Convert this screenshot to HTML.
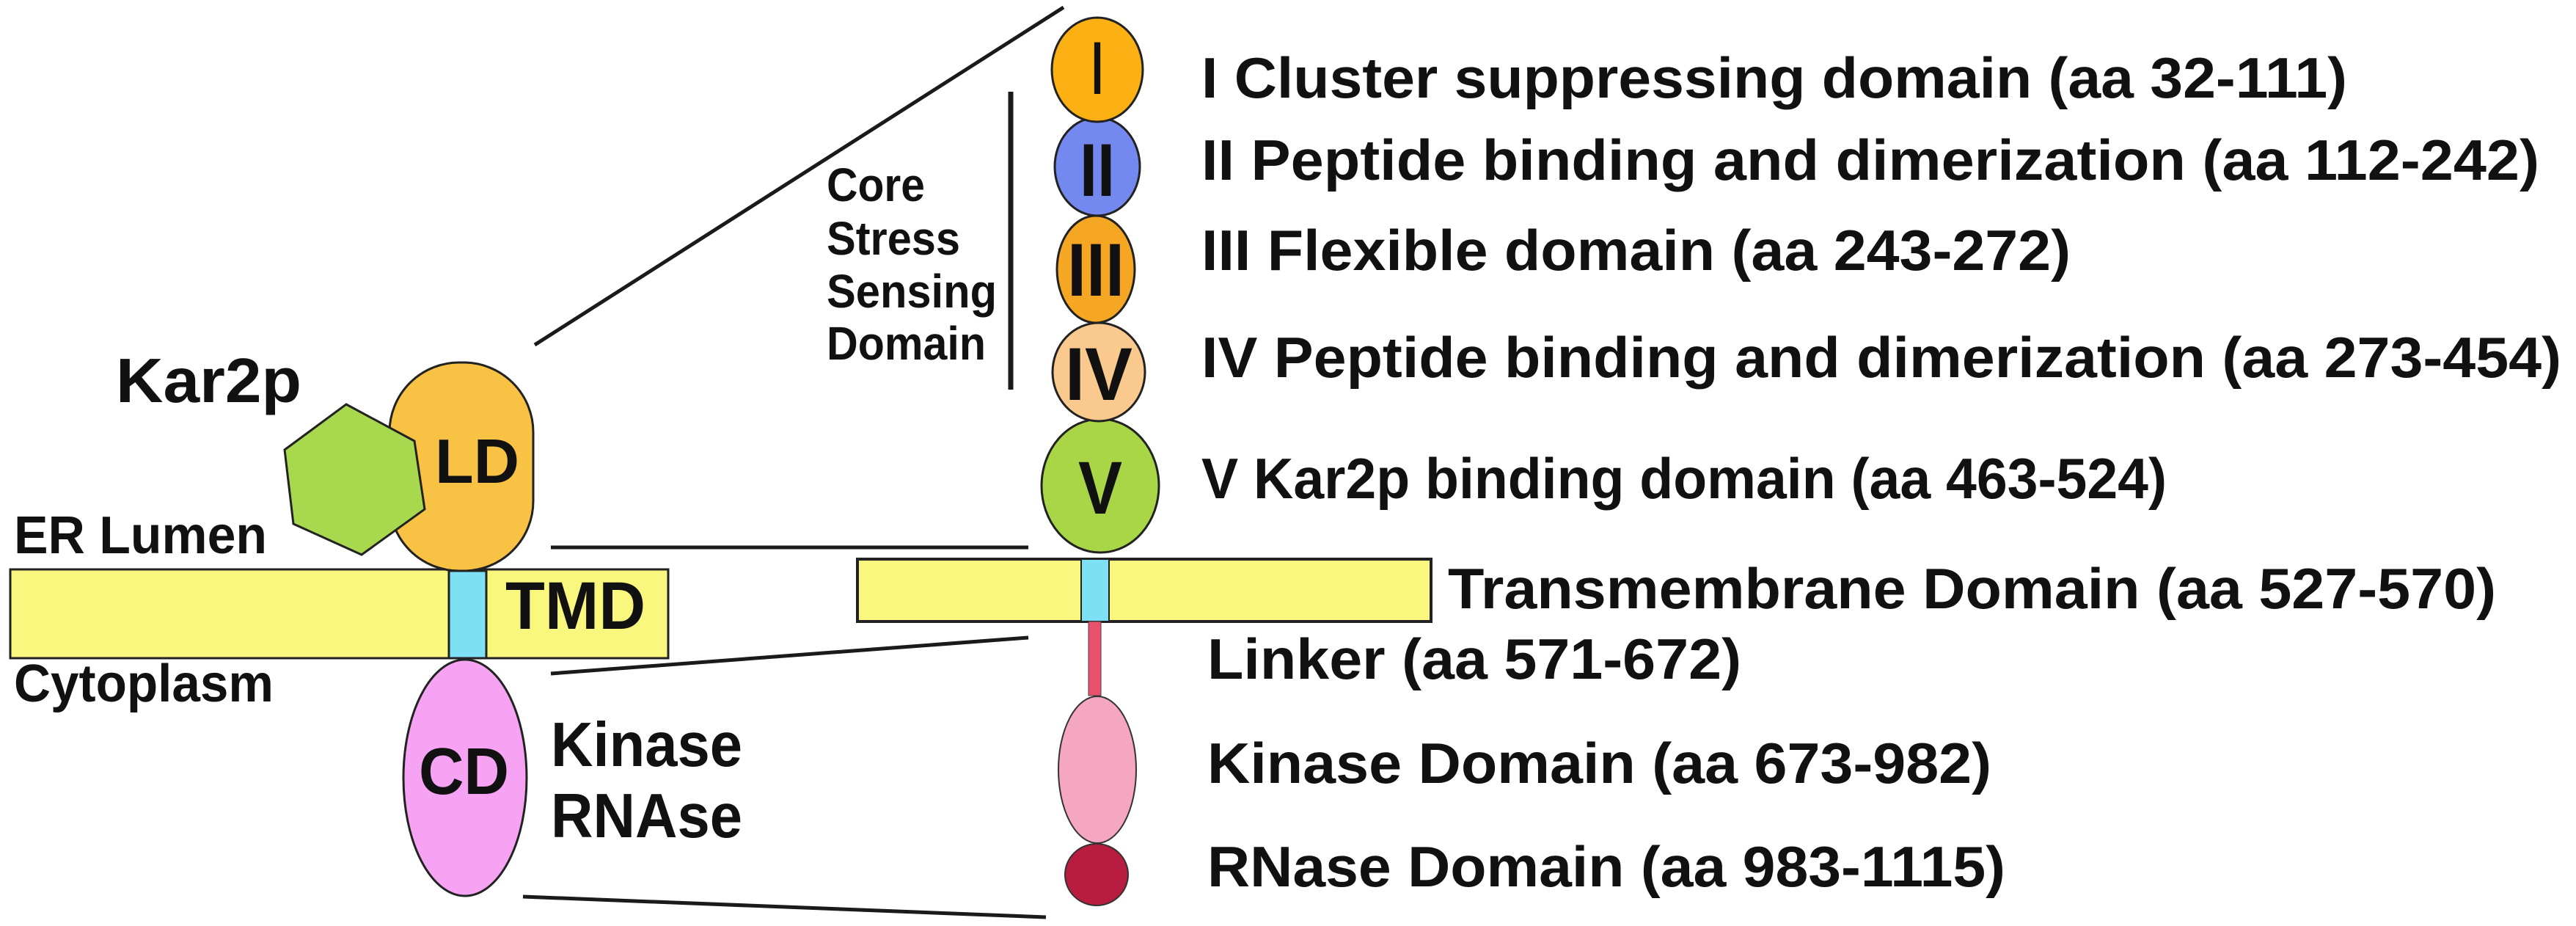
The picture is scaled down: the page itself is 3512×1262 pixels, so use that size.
<!DOCTYPE html>
<html><head><meta charset="utf-8"><style>
html,body{margin:0;padding:0;background:#fff;}
svg{display:block;}
text{font-family:"Liberation Sans",Arial,sans-serif;font-weight:bold;fill:#111;}
</style></head><body>
<svg width="3512" height="1262" viewBox="0 0 3512 1262" xmlns="http://www.w3.org/2000/svg">
<g stroke="#1a1a1a" stroke-width="5" fill="none">
<line x1="729" y1="470" x2="1450" y2="10"/>
<line x1="751" y1="746" x2="1402" y2="746"/>
<line x1="751" y1="918" x2="1402" y2="869"/>
<line x1="713" y1="1222" x2="1426" y2="1250"/>
<line x1="1378" y1="125" x2="1378" y2="531" stroke-width="7"/>
</g>
<!-- left -->
<rect x="14" y="776" width="897" height="121" fill="#f9f77e" stroke="#222" stroke-width="3"/>
<rect x="531" y="494" width="196" height="284" rx="95" ry="95" fill="#f8c244" stroke="#222" stroke-width="3"/>
<polygon points="472,551 565,601 579,694 493,756 400,714 388,613" fill="#a8d84e" stroke="#222" stroke-width="3"/>
<rect x="612" y="778" width="51" height="119" fill="#7ee0f5" stroke="#222" stroke-width="3"/>
<ellipse cx="634" cy="1060" rx="84" ry="161" fill="#f5a3f2" stroke="#222" stroke-width="3"/>
<text x="158" y="548" font-size="85" textLength="253" lengthAdjust="spacingAndGlyphs">Kar2p</text>
<text x="593" y="658" font-size="85" textLength="115" lengthAdjust="spacingAndGlyphs">LD</text>
<text x="19" y="754" font-size="72" textLength="345" lengthAdjust="spacingAndGlyphs">ER Lumen</text>
<text x="689" y="857" font-size="92" textLength="191" lengthAdjust="spacingAndGlyphs">TMD</text>
<text x="19" y="956" font-size="72" textLength="354" lengthAdjust="spacingAndGlyphs">Cytoplasm</text>
<text x="571" y="1082" font-size="90" textLength="123" lengthAdjust="spacingAndGlyphs">CD</text>
<text x="751" y="1044" font-size="85" textLength="261" lengthAdjust="spacingAndGlyphs">Kinase</text>
<text x="751" y="1141" font-size="85" textLength="261" lengthAdjust="spacingAndGlyphs">RNAse</text>
<text x="1127" y="274" font-size="64" textLength="134" lengthAdjust="spacingAndGlyphs">Core</text>
<text x="1127" y="347" font-size="64" textLength="182" lengthAdjust="spacingAndGlyphs">Stress</text>
<text x="1127" y="419" font-size="64" textLength="232" lengthAdjust="spacingAndGlyphs">Sensing</text>
<text x="1127" y="490" font-size="64" textLength="217" lengthAdjust="spacingAndGlyphs">Domain</text>
<!-- right -->
<rect x="1169" y="762" width="782" height="85" fill="#f9f77e" stroke="#222" stroke-width="4"/>
<rect x="1474" y="762" width="38" height="85" fill="#7ee0f5" stroke="#222" stroke-width="2"/>
<rect x="1484" y="847" width="17" height="101" fill="#e8506e" stroke="#444" stroke-width="1"/>
<ellipse cx="1496" cy="1049" rx="53" ry="100" fill="#f5a6c0" stroke="#333" stroke-width="2"/>
<ellipse cx="1495" cy="1192" rx="43" ry="42" fill="#b81c3f" stroke="#333" stroke-width="2"/>
<ellipse cx="1500" cy="662" rx="80" ry="91" fill="#a9d646" stroke="#222" stroke-width="3"/>
<ellipse cx="1498" cy="507" rx="63" ry="67" fill="#f9c98e" stroke="#222" stroke-width="3"/>
<ellipse cx="1494" cy="367" rx="53" ry="73" fill="#f5a623" stroke="#222" stroke-width="3"/>
<ellipse cx="1496" cy="227" rx="58" ry="67" fill="#7389f0" stroke="#222" stroke-width="3"/>
<ellipse cx="1496" cy="95" rx="62" ry="71" fill="#fbb013" stroke="#222" stroke-width="3"/>
<text x="1496" y="128" font-size="102" text-anchor="middle" textLength="16" lengthAdjust="spacingAndGlyphs">I</text>
<text x="1496" y="267" font-size="102" text-anchor="middle" textLength="48" lengthAdjust="spacingAndGlyphs">II</text>
<text x="1494" y="403" font-size="102" text-anchor="middle" textLength="78" lengthAdjust="spacingAndGlyphs">III</text>
<text x="1498" y="545" font-size="102" text-anchor="middle" textLength="92" lengthAdjust="spacingAndGlyphs">IV</text>
<text x="1500" y="700" font-size="102" text-anchor="middle" textLength="60" lengthAdjust="spacingAndGlyphs">V</text>
<text x="1638" y="133" font-size="78" textLength="1562" lengthAdjust="spacingAndGlyphs">I Cluster suppressing domain (aa 32-111)</text>
<text x="1638" y="245" font-size="78" textLength="1824" lengthAdjust="spacingAndGlyphs">II Peptide binding and dimerization (aa 112-242)</text>
<text x="1638" y="368" font-size="78" textLength="1185" lengthAdjust="spacingAndGlyphs">III Flexible domain (aa 243-272)</text>
<text x="1638" y="514" font-size="78" textLength="1854" lengthAdjust="spacingAndGlyphs">IV Peptide binding and dimerization (aa 273-454)</text>
<text x="1638" y="679" font-size="78" textLength="1316" lengthAdjust="spacingAndGlyphs">V Kar2p binding domain (aa 463-524)</text>
<text x="1974" y="829" font-size="78" textLength="1429" lengthAdjust="spacingAndGlyphs">Transmembrane Domain (aa 527-570)</text>
<text x="1646" y="925" font-size="78" textLength="728" lengthAdjust="spacingAndGlyphs">Linker (aa 571-672)</text>
<text x="1646" y="1067" font-size="78" textLength="1069" lengthAdjust="spacingAndGlyphs">Kinase Domain (aa 673-982)</text>
<text x="1646" y="1208" font-size="78" textLength="1088" lengthAdjust="spacingAndGlyphs">RNase Domain (aa 983-1115)</text>
</svg>
</body></html>
